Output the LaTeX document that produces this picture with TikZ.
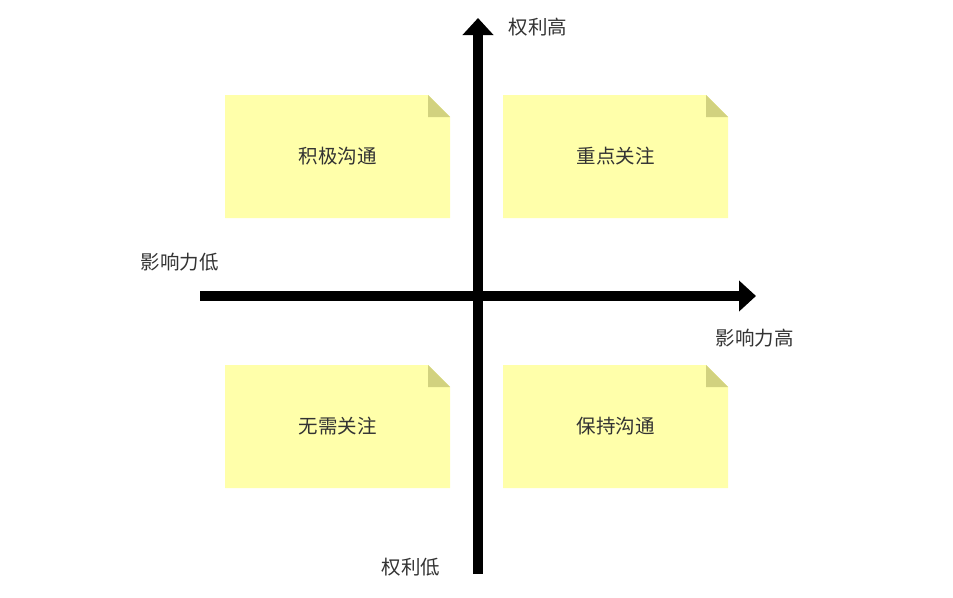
\documentclass[tikz,border=0pt]{standalone}
\usepackage{fontspec}
\setmainfont{Noto Sans CJK SC}
\usetikzlibrary{arrows.meta}
\definecolor{notefill}{HTML}{FFFFAA}
\definecolor{notefold}{HTML}{D2D27F}
\definecolor{labeltext}{HTML}{333333}
\tikzset{
	sticky/.style={minimum width=225pt, minimum height=123pt, inner sep=0pt, outer sep=0pt,
		text=labeltext, font=\fontsize{19.5pt}{22pt}\selectfont,
		path picture={
			\fill[notefill] (path picture bounding box.south west) -- (path picture bounding box.south east)
				-- ([yshift=-22pt]path picture bounding box.north east) -- ([xshift=-22pt]path picture bounding box.north east)
				-- (path picture bounding box.north west) -- cycle;
			\fill[notefold] ([xshift=-22pt]path picture bounding box.north east) -- ([xshift=-22pt,yshift=-22pt]path picture bounding box.north east)
				-- ([yshift=-22pt]path picture bounding box.north east) -- cycle;
		}},
	axislabel/.style={text=labeltext, font=\fontsize{19.5pt}{22pt}\selectfont, inner sep=0pt},
	axisarrow/.style={line width=10pt, -{Triangle[width=30pt,length=17pt]}}
}
\begin{document}
\begin{tikzpicture}[x=1pt,y=1pt]
			\useasboundingbox (0,0) rectangle (953,-597);
			% the four quadrants
			\node[sticky] (active) at (337.5,-156.5) {积极沟通};
			\node[sticky] (focus) at (615.5,-156.5) {重点关注};
			\node[sticky] (ignore) at (337.5,-426.5) {无需关注};
			\node[sticky] (keep) at (615.5,-426.5) {保持沟通};
			% axes
			\coordinate (xlow) at (200,-296);
			\coordinate (xhigh) at (756,-296);
			\coordinate (ylow) at (478,-574);
			\coordinate (yhigh) at (478,-18);
			\draw[axisarrow] (xlow) -- (xhigh);
			\draw[axisarrow] (ylow) -- (yhigh);
			\node[axislabel] (powerhigh) at (538,-27) {权利高};
			\node[axislabel] (powerlow) at (411,-567) {权利低};
			\node[axislabel] (inflow) at (179.5,-262) {影响力低};
			\node[axislabel] (infhigh) at (754.5,-338) {影响力高};
\end{tikzpicture}
\end{document}
